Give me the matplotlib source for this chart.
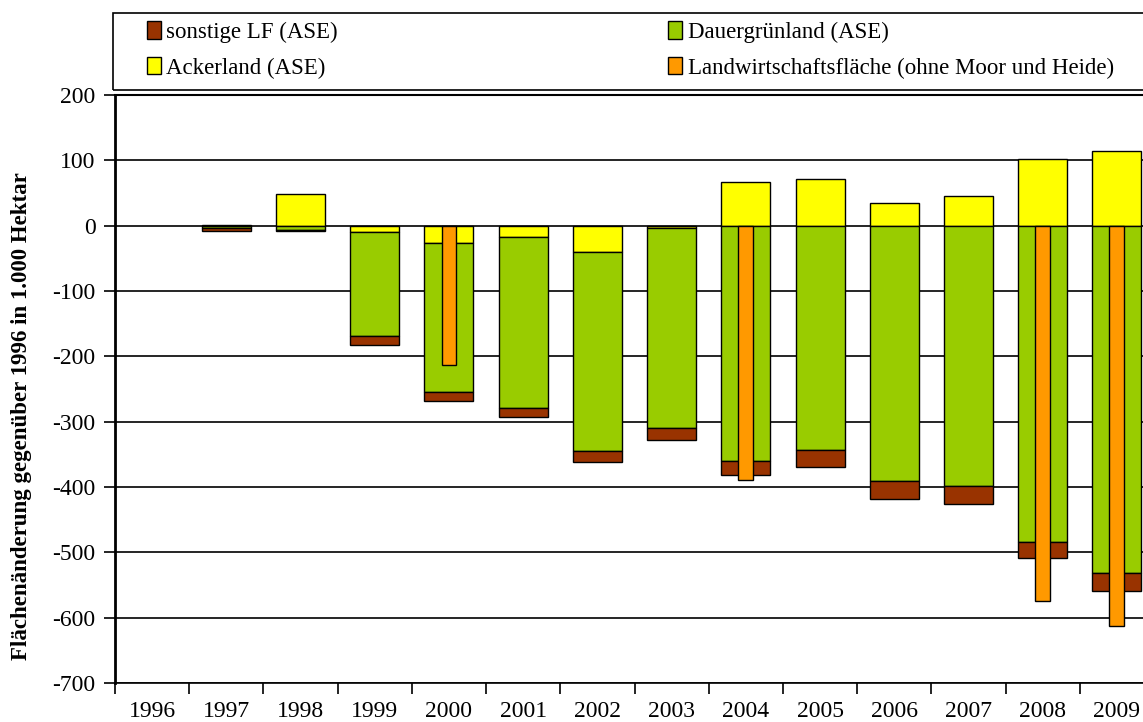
import numpy as np
import matplotlib.pyplot as plt
from matplotlib.patches import Rectangle
from matplotlib.ticker import FixedLocator

plt.rcParams["font.family"] = ["Liberation Serif", "DejaVu Serif"]
plt.rcParams["axes.unicode_minus"] = False

years = ["1996", "1997", "1998", "1999", "2000", "2001", "2002",
         "2003", "2004", "2005", "2006", "2007", "2008", "2009"]

# Veränderung gegenüber 1996 in 1.000 ha
ackerland = [0, 1, 48, -10, -27, -17, -40, -4, 67, 71, 35, 46, 102, 114]
dauergruen = [0, -3, -6, -159, -227, -262, -305, -306, -360, -343, -391, -399, -484, -532]
sonstige = [0, -5, -2, -14, -14, -14, -16, -18, -21, -27, -27, -27, -25, -27]
landwirt = [np.nan, np.nan, np.nan, np.nan, -214, np.nan, np.nan, np.nan,
            -390, np.nan, np.nan, np.nan, -574, -613]

c_sonst = "#993300"
c_dauer = "#99CC00"
c_acker = "#FFFF00"
c_lw = "#FF9900"

x = np.arange(len(years))
acker = np.array(ackerland, dtype=float)
dauer = np.array(dauergruen, dtype=float)
sonst = np.array(sonstige, dtype=float)
lw = np.array(landwirt, dtype=float)

fig = plt.figure(figsize=(11.43, 7.22), dpi=100)
ax = fig.add_axes([115 / 1143, 1 - 683 / 722, (1154 - 115) / 1143, (683 - 95) / 722])

ax.set_axisbelow(True)
ax.yaxis.grid(True, color="black", lw=1.2)

bw = 0.66
mask = acker != 0
ax.bar(x[mask], acker[mask], bw, color=c_acker, edgecolor="black", lw=1, zorder=3)
base = np.minimum(acker, 0)
mask = dauer != 0
ax.bar(x[mask], dauer[mask], bw, bottom=base[mask], color=c_dauer,
       edgecolor="black", lw=1, zorder=3)
base2 = base + dauer
mask = sonst != 0
ax.bar(x[mask], sonst[mask], bw, bottom=base2[mask], color=c_sonst,
       edgecolor="black", lw=1, zorder=3)
mask = ~np.isnan(lw)
ax.bar(x[mask], lw[mask], 0.2, color=c_lw, edgecolor="black", lw=1, zorder=4)

ax.set_xlim(-0.5, len(years) - 0.5)
ax.set_ylim(-700, 200)
ax.set_yticks(np.arange(-700, 201, 100))
ax.set_xticks(x)
ax.set_xticklabels(years)
ax.xaxis.set_minor_locator(FixedLocator(np.arange(-0.5, len(years), 1)))
ax.tick_params(axis="x", which="major", length=0, labelsize=17, pad=13)
ax.tick_params(axis="x", which="minor", length=8, width=1.2, direction="out")
ax.tick_params(axis="y", length=8, width=1.2, labelsize=17, pad=6)

ax.spines["right"].set_visible(False)
ax.spines["top"].set_linewidth(1.5)
ax.spines["left"].set_linewidth(2)
ax.spines["bottom"].set_linewidth(1.2)

fig.text(22 / 1143, 1 - 416 / 722, "Flächenänderung gegenüber 1996 in 1.000 Hektar",
         rotation=90, ha="center", va="center", fontsize=16.5, fontweight="bold")

# Legendenrahmen
fig.patches.append(Rectangle((113 / 1143, 1 - 90 / 722), (1170 - 113) / 1143, 77 / 722,
                             transform=fig.transFigure, fill=False,
                             ec="black", lw=1.2))

handles = [plt.Rectangle((0, 0), 1, 1, fc=c, ec="black", lw=1)
           for c in (c_sonst, c_acker, c_dauer, c_lw)]
labels = ["sonstige LF (ASE)", "Ackerland (ASE)",
          "Dauergrünland (ASE)", "Landwirtschaftsfläche (ohne Moor und Heide)"]
leg = fig.legend(handles, labels, ncol=2, loc="upper left",
                 bbox_to_anchor=(147 / 1143, 1 - 21 / 722),
                 fontsize=16.5, frameon=False,
                 handlelength=0.6, handleheight=0.8, handletextpad=0.25,
                 borderaxespad=0, borderpad=0, labelspacing=0.62,
                 columnspacing=14.4)

fig.savefig("out.png", dpi=100)
